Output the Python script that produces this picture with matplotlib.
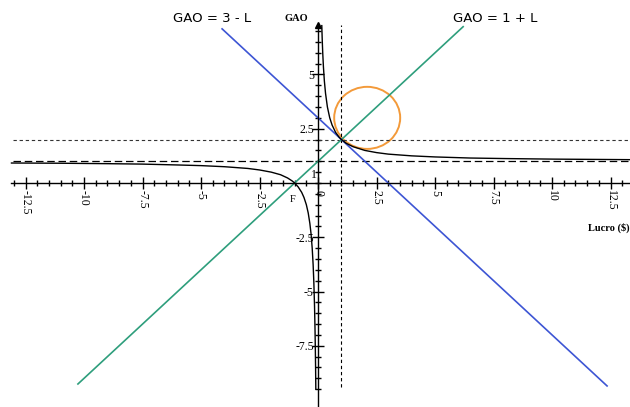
"""GAO = 1 + 1/L com as retas GAO = 3 - L e GAO = 1 + L."""
import matplotlib
matplotlib.use("Agg")
import matplotlib.pyplot as plt
import numpy as np
from matplotlib.patches import Ellipse
from matplotlib.ticker import FixedLocator

# curva GAO x Lucro (ramo esquerdo e ramo direito)
lucro_esq = [-13.1, -11, -9, -7.5, -6, -5, -4, -3, -2.5, -2, -1.6, -1.3, -1.1,
             -1.0, -0.85, -0.7, -0.6, -0.5, -0.42, -0.35, -0.3, -0.25, -0.21,
             -0.18, -0.15, -0.13, -0.115, -0.105, -0.095]
gao_esq = [0.92, 0.91, 0.89, 0.87, 0.83, 0.8, 0.75, 0.67, 0.6, 0.5, 0.38, 0.23,
           0.09, 0.0, -0.18, -0.43, -0.67, -1.0, -1.38, -1.86, -2.33, -3.0,
           -3.76, -4.56, -5.67, -6.7, -7.7, -8.5, -9.5]
lucro_dir = [0.16, 0.18, 0.2, 0.23, 0.27, 0.32, 0.4, 0.5, 0.6, 0.75, 0.9, 1.0,
             1.2, 1.5, 2.0, 2.5, 3.0, 4.0, 5.0, 6.5, 8.0, 10.0, 13.3]
gao_dir = [7.25, 6.56, 6.0, 5.35, 4.7, 4.13, 3.5, 3.0, 2.67, 2.33, 2.11, 2.0,
           1.83, 1.67, 1.5, 1.4, 1.33, 1.25, 1.2, 1.15, 1.125, 1.1, 1.075]

# retas (extremos)
reta_1mais_x = [-10.26, 6.2]
reta_1mais_y = [-9.26, 7.2]
reta_3menos_x = [-4.1, 12.35]
reta_3menos_y = [7.1, -9.35]

# ponto de equilíbrio destacado
ponto_l, ponto_gao = 1, 2
assintota_gao = 1

x_ticks = [-12.5, -10, -7.5, -5, -2.5, 0, 2.5, 5, 7.5, 10, 12.5]
x_labels = ["-12.5", "-10", "-7.5", "-5", "-2.5", "0", "2.5", "5", "7.5", "10", "12.5"]
y_ticks = [-7.5, -5, -2.5, 2.5, 5]
y_labels = ["-7.5", "-5", "-2.5", "2.5", "5"]

serif = "Liberation Serif"

fig = plt.figure(figsize=(6.3, 4.07), dpi=100)
ax = fig.add_axes([0, 0, 1, 1])
ax.set_xlim(-13.59, 13.33)
ax.set_ylim(-10.32, 8.43)

# eixos cruzando na origem
for s in ("top", "right"):
    ax.spines[s].set_visible(False)
ax.spines["left"].set_position(("data", 0))
ax.spines["bottom"].set_position(("data", 0))
ax.spines["left"].set_bounds(-10.3, 7.3)
ax.spines["bottom"].set_bounds(-13.1, 13.33)
for s in ("left", "bottom"):
    ax.spines[s].set_linewidth(1.0)
ax.plot([0], [7.3], marker="^", ms=4, color="black", clip_on=False)

ax.set_xticks(x_ticks)
ax.set_xticklabels(x_labels, rotation=270, fontfamily=serif, fontsize=8.5)
ax.set_yticks(y_ticks)
ax.set_yticklabels(y_labels, fontfamily=serif, fontsize=8.5)
ax.xaxis.set_minor_locator(FixedLocator(np.arange(-13.0, 13.01, 0.5)))
ax.yaxis.set_minor_locator(FixedLocator(np.arange(-9.5, 7.01, 0.5)))
ax.tick_params(which="major", direction="inout", length=8, width=1, pad=1)
ax.tick_params(which="minor", direction="inout", length=5, width=1)
ax.tick_params(axis="y", pad=-1)
ax.text(-0.17, 0.37, "1", fontfamily=serif, fontsize=8.5, ha="center", va="center")

# linhas de referência tracejadas
ax.axhline(ponto_gao, xmin=0.02, color="#333333", lw=0.8, ls=(0, (3, 2.5)))
ax.axhline(assintota_gao, xmin=0.02, color="black", lw=0.9, ls=(0, (6, 3)))
ax.plot([ponto_l, ponto_l], [-9.4, 7.3], color="black", lw=0.8, ls=(0, (3, 2.5)))

# curvas
ax.plot(reta_1mais_x, reta_1mais_y, color="#2e9e7c", lw=1.2)
ax.plot(reta_3menos_x, reta_3menos_y, color="#3d55d4", lw=1.2)
ax.plot(lucro_esq, gao_esq, color="black", lw=1.0)
ax.plot(lucro_dir, gao_dir, color="black", lw=1.0)

ax.add_patch(Ellipse((2.1, 3.0), 2.82, 2.86, fill=False, ec="#f39a3a", lw=1.4))

ax.text(-4.53, 7.56, "GAO = 3 - L", fontsize=9.5, ha="center", va="center")
ax.text(7.56, 7.6, "GAO = 1 + L", fontsize=9.5, ha="center", va="center")
ax.text(-0.94, 7.56, "GAO", fontfamily=serif, fontweight="bold", fontsize=7.5,
        ha="center", va="center")
ax.text(12.44, -2.07, "Lucro ($)", fontfamily=serif, fontweight="bold",
        fontsize=7.5, ha="center", va="center")
ax.text(-1.07, -0.78, "F", fontfamily=serif, fontsize=7.5, ha="center", va="center")

fig.savefig("out.png", dpi=100)
